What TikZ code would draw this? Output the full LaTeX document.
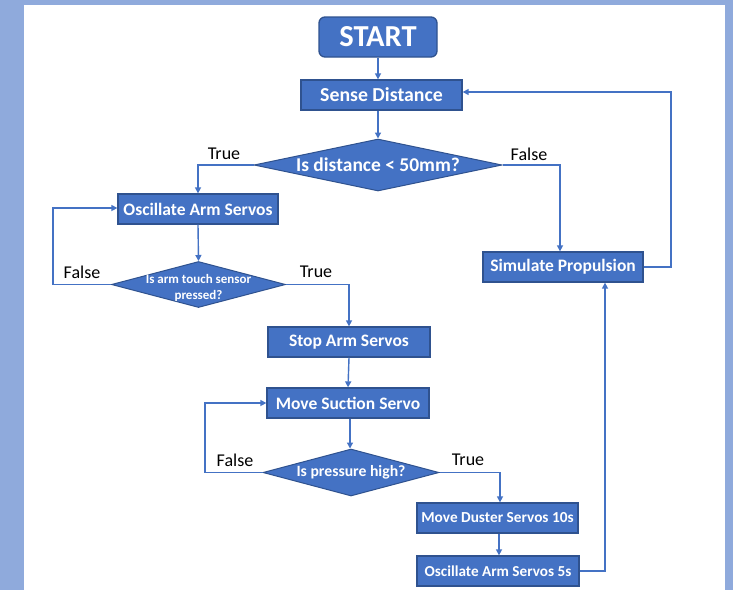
\documentclass[tikz,border=0pt]{standalone}
\usepackage{fontspec}
\setmainfont{Carlito}
\usetikzlibrary{shapes.geometric,arrows.meta,calc}
\definecolor{frame}{HTML}{8FAADC}
\definecolor{boxfill}{HTML}{4472C4}
\definecolor{boxline}{HTML}{2F528F}
\definecolor{arr}{HTML}{4472C4}
\tikzset{
  procbox/.style={draw=boxline, fill=boxfill, line width=1.3pt, text=white, font=\bfseries\fontsize{17.5}{19}\selectfont, inner sep=0pt, minimum height=30pt},
  decide/.style={diamond, draw=boxline, fill=boxfill, line width=1.0pt, text=white, font=\bfseries, inner sep=0pt, aspect=5},
  conn/.style={draw=arr, line width=1.4pt, -{Triangle[length=6pt,width=6pt]}},
  lbl/.style={text=black, font=\fontsize{18}{20}\selectfont, inner sep=0pt}
}
\begin{document}
\begin{tikzpicture}[x=1pt,y=-1pt]
\useasboundingbox (0,0) rectangle (733,590);
\fill[frame] (0,0) rectangle (733,590);
\fill[white] (24,5) rectangle (725,590);

\node[procbox, rounded corners=6pt, minimum width=118pt, minimum height=40pt, font=\bfseries\fontsize{30.5}{32}\selectfont] (start) at (378,37) {START};
\node[procbox, minimum width=161pt, font=\bfseries\fontsize{19.8}{21}\selectfont] (sense) at (381.5,95) {Sense Distance};
\node[decide, minimum width=248pt, minimum height=52pt, font=\bfseries\fontsize{19.5}{21}\selectfont] (d1) at (378,165) {\makebox[0pt]{Is distance < 50mm?}};
\node[procbox, minimum width=160pt] (osc) at (198,209) {Oscillate Arm Servos};
\node[decide, minimum width=174pt, minimum height=46pt, font=\bfseries\fontsize{13}{15}\selectfont] (d2) at (198.5,284.5) {\makebox[0pt]{\smash{\raisebox{-7pt}{\begin{tabular}{@{}c@{}}Is arm touch sensor\\[0.5pt] pressed?\end{tabular}}}}};
\node[procbox, minimum width=162pt] (stop) at (349,342) {Stop Arm Servos};
\node[procbox, minimum width=162pt] (move) at (348,403) {Move Suction Servo};
\node[decide, minimum width=176pt, minimum height=47pt, font=\bfseries\fontsize{15.7}{17}\selectfont] (d3) at (351,472.5) {\makebox[0pt]{Is pressure high?}};
\node[procbox, minimum width=161pt, font=\bfseries\fontsize{15.3}{17}\selectfont] (duster) at (497.5,518) {Move Duster Servos 10s};
\node[procbox, minimum width=162pt, font=\bfseries\fontsize{15.2}{17}\selectfont] (osc5) at (498,571) {Oscillate Arm Servos 5s};
\node[procbox, minimum width=160pt] (sim) at (563,267) {Simulate Propulsion};

\coordinate (c1) at (671,92);
\coordinate (c2) at (53,208);
\coordinate (c3) at (205,403);
\coordinate (c4) at (605,571);

\draw[conn] (start.south -| 378,0) -- (sense.north -| 378,0);
\draw[conn] (sense.south -| 378,0) -- (d1.north);
\draw[conn] (d1.west) -| (osc.north);
\draw[conn] (d1.east) -| (sim.north -| 560,0);
\draw[conn] (osc.south) -- (d2.north);
\draw[conn] (d2.west) -| (c2) -- (osc.west |- c2);
\draw[conn] (d2.east) -| (stop.north);
\draw[conn] (stop.south) -- (move.north);
\draw[conn] (move.south -| 350,0) -- (d3.north -| 350,0);
\draw[conn] (d3.west) -| (c3) -- (move.west);
\draw[conn] (d3.east) -| (duster.north -| 500,0);
\draw[conn] (duster.south -| 499,0) -- (osc5.north -| 499,0);
\draw[conn] (osc5.east) -- (c4) -- (sim.south -| c4);
\draw[conn] (sim.east) -| (c1) -- (sense.east |- c1);

\node[lbl] (t1) at (224,154) {True};
\node[lbl] (f1) at (529,154) {False};
\node[lbl] (f2) at (82,272) {False};
\node[lbl] (t2) at (316,272) {True};
\node[lbl] (f3) at (235,460) {False};
\node[lbl] (t3) at (468,460) {True};
\end{tikzpicture}
\end{document}
